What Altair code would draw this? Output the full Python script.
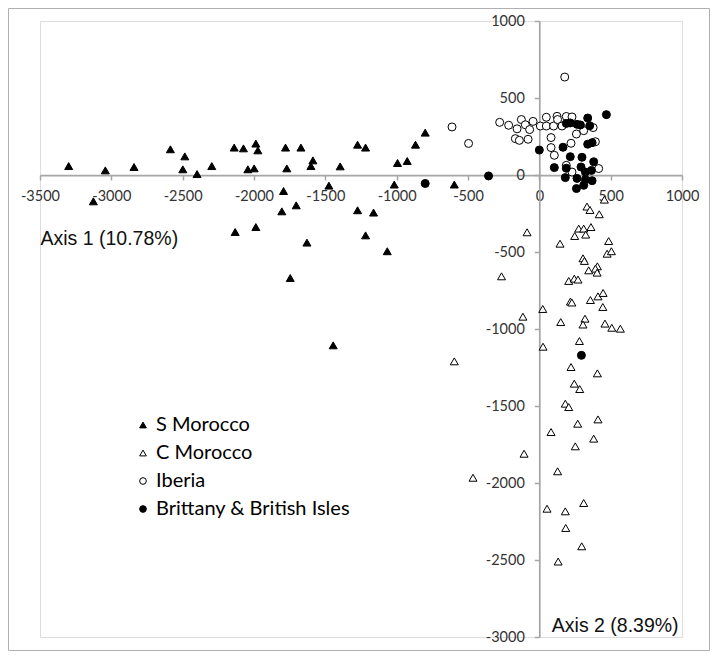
import altair as alt
import pandas as pd

groups = ["S Morocco", "C Morocco", "Iberia", "Brittany & British Isles"]

s_x = [-3299, -3042, -2841, -2586, -2485, -2499, -2399, -2296, -2139, -2074, -1987, -1973,
       -2043, -1999, -1779, -1671, -1770, -1587, -1601, -3126, -1793, -1704, -1805, -2132,
       -1987, -1629, -1746, -1396, -1274, -1218, -994, -926, -868, -800, -1475, -1017,
       -596, -1274, -1162, -1218, -1066, -1445]
s_y = [58, 30, 52, 167, 121, 37, 6, 58, 178, 173, 204, 160,
       37, 43, 178, 178, 43, 95, 58, -171, -104, -197, -236, -370,
       -338, -439, -669, 56, 197, 178, 78, 91, 197, 275, -69, -62,
       -62, -229, -244, -392, -495, -1106]

c_x = [456, 334, 355, 420, 276, 311, 362, 248, 325, -86, 145, 486, 475, 505, 306, 316,
       407, 393, 405, 346, 206, 245, 271, -265, 218, 228, 358, 411, 447, 445, 24, -115,
       150, 320, 306, 460, 508, 568, 281, 26, -596, 222, 407, 245, 283, 182, 206, 411,
       269, 82, 381, 252, -107, 128, -465, 311, 54, 182, 185, 297, 132]
c_y = [-160, -205, -227, -255, -348, -348, -338, -396, -387, -372, -446, -429, -511, -495, -541, -558,
       -593, -608, -634, -619, -688, -673, -679, -658, -822, -828, -812, -788, -766, -857, -870, -920,
       -955, -933, -971, -965, -992, -998, -1078, -1115, -1210, -1247, -1288, -1355, -1390, -1485, -1507, -1587,
       -1615, -1669, -1712, -1762, -1810, -1924, -1966, -2130, -2167, -2184, -2292, -2411, -2510]

i_x = [178, -612, -496, -278, -215, -126, -156, -98, -44, -68, -168, -140, -79, 7, 49, 49,
       100, 124, 128, 189, 229, 159, 82, 82, 105, 222, 260, 311, 377, 393, 416, 229, 189]
i_y = [636, 312, 205, 342, 323, 360, 300, 326, 348, 295, 236, 225, 232, 318, 375, 318,
       318, 381, 360, 380, 377, 318, 243, 178, 128, 206, 266, 288, 308, 216, 42, 19, 63]

b_x = [470, 339, 189, 217, 264, 288, 353, 339, 370, 0, 166, 217, 299, 381, 105, 189,
       292, 323, 365, 182, 264, 323, 370, 311, 260, -356, -800, 295]
b_y = [392, 370, 335, 338, 329, 325, 320, 200, 210, 162, 180, 119, 115, 86, 48, 44,
       52, 19, 30, -17, -22, -30, -37, -67, -88, -6, -55, -1171]

x_ticks = [-3500, -3000, -2500, -2000, -1500, -1000, -500, 0, 500, 1000]
y_ticks = [-3000, -2500, -2000, -1500, -1000, -500, 0, 500, 1000]

rows = []
for g, xs, ys in zip(groups, [s_x, c_x, i_x, b_x], [s_y, c_y, i_y, b_y]):
    for a, b in zip(xs, ys):
        rows.append({"x": a, "y": b, "group": g})
df = pd.DataFrame(rows)

W, H = 642, 616
y_axis_off = -round(W * 3500 / 4500, 1)   # y axis drawn at x = 0
x_axis_off = -round(H * 3000 / 4000, 1)   # x axis drawn at y = 0

legend = alt.Legend(orient="none", legendX=93, legendY=394, title=None,
                    labelFont="Lato", labelFontSize=20, labelColor="black", labelLimit=0,
                    symbolSize=45, symbolStrokeWidth=1, rowPadding=8, labelOffset=3)

axis_common = dict(grid=False, titleFont="Liberation Sans", titleFontSize=19.5,
                   titleFontWeight="normal", titleColor="#111", titleAlign="left",
                   titleBaseline="middle", labelFont="Lato", labelFontSize=14.5,
                   labelColor="#333", labelOverlap=False, labelFlush=False,
                   labelExpr="'' + datum.value",
                   domainColor="#a6a6a6", domainWidth=1.75,
                   tickColor="#a6a6a6", tickWidth=1.5, tickSize=5)

points = alt.Chart(df).mark_point(stroke="black", strokeWidth=1, opacity=1,
                                  fillOpacity=1, size=64).encode(
    x=alt.X("x:Q", scale=alt.Scale(domain=[-3500, 1000], nice=False, zero=False),
            axis=alt.Axis(values=x_ticks, offset=x_axis_off,
                          title="Axis 1 (10.78%)", titleX=0, titleY=63,
                          labelPadding=9, **axis_common)),
    y=alt.Y("y:Q", scale=alt.Scale(domain=[-3000, 1000], nice=False, zero=False),
            axis=alt.Axis(values=y_ticks, offset=y_axis_off,
                          title="Axis 2 (8.39%)", titleX=12, titleY=604, titleAngle=0,
                          labelPadding=10, **axis_common)),
    shape=alt.Shape("group:N", scale=alt.Scale(domain=groups,
                    range=["triangle-up", "triangle-up", "circle", "circle"]), legend=legend),
    fill=alt.Fill("group:N", scale=alt.Scale(domain=groups,
                  range=["black", "white", "white", "black"]), legend=legend),
    order=alt.Order("ord:Q"),
).transform_calculate(
    ord="indexof(['S Morocco','C Morocco','Iberia','Brittany & British Isles'], datum.group)"
)

frame = alt.Chart(pd.DataFrame({"k": [0]})).mark_rect(
    fill=None, stroke="#b0b0b0", strokeWidth=1).encode(
    x=alt.value(-31.5), x2=alt.value(669.5), y=alt.value(-12.5), y2=alt.value(629.5))

chart = alt.layer(frame, points).properties(
    width=W, height=H,
    autosize=alt.AutoSizeParams(type="none"),
    padding={"left": 32, "top": 13, "right": 28, "bottom": 14},
).configure_view(stroke=None).configure(background="white")

chart.save("out.html", embed_options={"renderer": "svg", "actions": False})
